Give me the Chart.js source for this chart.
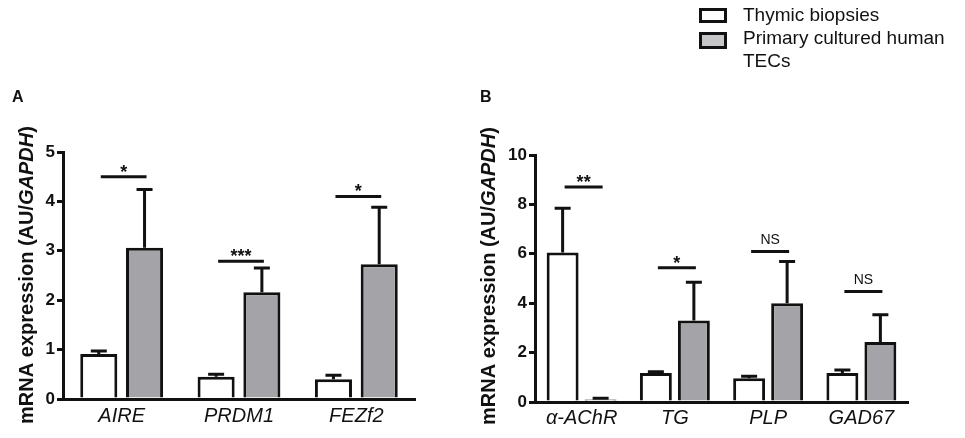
<!DOCTYPE html>
<html>
<head>
<meta charset="utf-8">
<script src="https://cdn.jsdelivr.net/npm/chart.js@4.4.0/dist/chart.umd.min.js"></script>
<style>
  body { margin: 0; background: #fff; font-family: "Liberation Sans", Arial, sans-serif; color: #111; }
  #page { position: relative; width: 965px; height: 438px; overflow: hidden; }
  .panel { position: absolute; top: 0; height: 438px; }
  .letter { position: absolute; font-weight: bold; font-size: 16px; }
  .legend { position: absolute; left: 699px; top: 3px; font-size: 19px; line-height: 23px; }
  .legend .row { position: relative; padding-left: 44px; }
  .legend .box { position: absolute; left: 0; top: 5px; width: 22px; height: 9px; border: 3px solid #111; }
</style>
</head>
<body>
<div id="page">
  <div class="panel" style="left:0;width:470px"><canvas id="chartA"></canvas></div>
  <div class="panel" style="left:470px;width:495px"><canvas id="chartB"></canvas></div>
  <div class="letter" style="left:12px;top:88px">A</div>
  <div class="letter" style="left:480px;top:88px">B</div>
  <div class="legend">
    <div class="row"><span class="box" style="background:#fff"></span>Thymic biopsies</div>
    <div class="row"><span class="box" style="background:#c6c6c8;top:6px;height:11px"></span>Primary cultured human<br>TECs</div>
  </div>
</div>
<script>
  // panel A
  const genesA = ["AIRE", "PRDM1", "FEZf2"];
  const thymicA = [0.91, 0.45, 0.40];
  const thymicSemA = [0.06, 0.05, 0.08];
  const tecA = [3.06, 2.16, 2.73];
  const tecSemA = [1.18, 0.49, 1.15];
  const sigA = ["*", "***", "*"];
  const sigLevelA = [4.5, 2.79, 4.1];

  // panel B
  const genesB = ["α-AChR", "TG", "PLP", "GAD67"];
  const thymicB = [6.05, 1.17, 0.96, 1.17];
  const thymicSemB = [1.79, 0.05, 0.08, 0.13];
  const tecB = [0.10, 3.30, 4.00, 2.43];
  const tecSemB = [0.05, 1.55, 1.69, 1.10];
  const sigB = ["**", "*", "NS", "NS"];
  const sigLevelB = [8.7, 5.44, 6.09, 4.47];

  const INK = "#111";
  const GREY = "#a4a4a8";
  const FONT = '"Liberation Sans", Arial, sans-serif';

  // error bars (upper only) and significance brackets
  const extrasPlugin = {
    id: "extras",
    afterDatasetsDraw(chart, args, opts) {
      const ctx = chart.ctx;
      const y = chart.scales.y;
      ctx.save();
      ctx.strokeStyle = INK;
      ctx.lineWidth = 3;
      chart.data.datasets.forEach((ds, di) => {
        chart.getDatasetMeta(di).data.forEach((bar, i) => {
          const top = y.getPixelForValue(ds.data[i] + ds.sem[i]);
          ctx.beginPath();
          ctx.moveTo(bar.x, bar.y);
          ctx.lineTo(bar.x, top);
          ctx.moveTo(bar.x - 8, top);
          ctx.lineTo(bar.x + 8, top);
          ctx.stroke();
        });
      });
      const m0 = chart.getDatasetMeta(0).data;
      const m1 = chart.getDatasetMeta(1).data;
      opts.levels.forEach((lv, i) => {
        const py = y.getPixelForValue(lv);
        const x0 = m0[i].x + 2, x1 = m1[i].x + 2;
        ctx.beginPath();
        ctx.moveTo(x0, py);
        ctx.lineTo(x1, py);
        ctx.stroke();
        const label = opts.labels[i];
        ctx.fillStyle = INK;
        ctx.textAlign = "center";
        ctx.textBaseline = "alphabetic";
        if (label === "NS") {
          ctx.font = "14px " + FONT;
          ctx.fillText(label, (x0 + x1) / 2, py - 8);
        } else {
          ctx.font = "bold 18px " + FONT;
          ctx.fillText(label, (x0 + x1) / 2, py + 1);
        }
      });
      ctx.restore();
    },
    afterDraw(chart, args, opts) {
      // y title with italic GAPDH
      const ctx = chart.ctx;
      const parts = [["mRNA expression (AU/", "bold"], ["GAPDH", "italic bold"], [")", "bold"]];
      ctx.save();
      let total = 0;
      parts.forEach(p => { ctx.font = p[1] + " 20px " + FONT; total += ctx.measureText(p[0]).width; });
      ctx.translate(opts.titleX, opts.titleY);
      ctx.rotate(-Math.PI / 2);
      ctx.textBaseline = "middle";
      ctx.textAlign = "left";
      ctx.fillStyle = INK;
      let x = -total / 2;
      parts.forEach(p => {
        ctx.font = p[1] + " 20px " + FONT;
        ctx.fillText(p[0], x, 0);
        x += ctx.measureText(p[0]).width;
      });
      ctx.restore();
    }
  };

  function makeChart(id, genes, thymic, thymicSem, tec, tecSem, cfg) {
    return new Chart(document.getElementById(id), {
      type: "bar",
      data: {
        labels: genes,
        datasets: [
          { label: "Thymic biopsies", data: thymic, sem: thymicSem, backgroundColor: "#fff",
            borderColor: INK, borderWidth: 3 },
          { label: "Primary cultured human TECs", data: tec, sem: tecSem, backgroundColor: GREY,
            borderColor: INK, borderWidth: 3 },
        ],
      },
      options: {
        responsive: true,
        maintainAspectRatio: false,
        animation: false,
        layout: { padding: { top: cfg.top, right: cfg.right, left: 0, bottom: 0 } },
        datasets: { bar: { categoryPercentage: cfg.cat, barPercentage: cfg.bar } },
        plugins: {
          legend: { display: false },
          tooltip: { enabled: false },
          extras: { levels: cfg.levels, labels: cfg.labels, titleX: cfg.titleX, titleY: cfg.titleY },
        },
        scales: {
          x: {
            z: 1,
            grid: { display: false, drawTicks: false },
            border: { display: true, width: 3, color: INK },
            ticks: { color: INK, padding: cfg.xPad, font: { family: FONT, size: 20, style: "italic" } },
            afterFit(scale) { scale.height = cfg.xHeight; },
          },
          y: {
            min: 0,
            max: cfg.max,
            ticks: { stepSize: cfg.step, color: INK, padding: 2, font: { family: FONT, size: 17, weight: "bold" } },
            grid: { drawOnChartArea: false, drawTicks: true, tickLength: 6, lineWidth: 3, color: INK },
            border: { display: true, width: 3, color: INK },
            afterFit(scale) { scale.width = cfg.left; },
          },
        },
      },
      plugins: [extrasPlugin],
    });
  }

  makeChart("chartA", genesA, thymicA, thymicSemA, tecA, tecSemA, {
    top: 152, right: 55, left: 63, xHeight: 39, xPad: 5, max: 5, step: 1,
    cat: 0.78, bar: 0.81, levels: sigLevelA, labels: sigA, titleX: 27, titleY: 275,
  });
  makeChart("chartB", genesB, thymicB, thymicSemB, tecB, tecSemB, {
    top: 155, right: 57, left: 65, xHeight: 36, xPad: 4, max: 10, step: 2,
    cat: 0.815, bar: 0.84, levels: sigLevelB, labels: sigB, titleX: 19, titleY: 276,
  });
</script>
</body>
</html>
